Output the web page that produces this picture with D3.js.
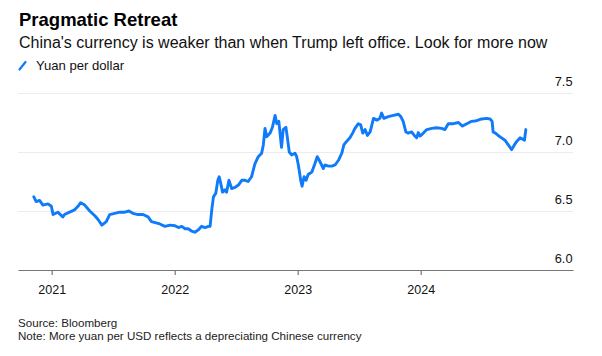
<!DOCTYPE html>
<html>
<head>
<meta charset="utf-8">
<script src="https://cdn.jsdelivr.net/npm/d3@7"></script>
<style>
  html, body { margin: 0; padding: 0; background: #fff; }
  svg { display: block; font-family: "Liberation Sans", Arial, sans-serif; }
</style>
</head>
<body>
<svg id="chart" width="602" height="356"></svg>
<script>
// ---- Data ----
const dates = [
 "2020-11-09","2020-11-16","2020-11-26","2020-12-06","2020-12-21","2020-12-31",
 "2021-01-05","2021-01-19","2021-02-03","2021-02-08","2021-02-23","2021-03-10",
 "2021-03-20","2021-03-28","2021-04-09","2021-04-24","2021-05-09","2021-05-18",
 "2021-05-30","2021-06-12","2021-06-22","2021-07-07","2021-07-22","2021-08-06",
 "2021-08-18","2021-08-30","2021-09-14","2021-09-29","2021-10-14","2021-10-24",
 "2021-11-07","2021-11-18","2021-12-03","2021-12-18","2022-01-02","2022-01-12",
 "2022-01-22","2022-02-01","2022-02-10","2022-02-20","2022-03-02","2022-03-12",
 "2022-03-22","2022-04-01","2022-04-11","2022-04-16","2022-04-21","2022-04-26",
 "2022-05-03","2022-05-09","2022-05-13","2022-05-18","2022-05-23","2022-05-30",
 "2022-06-04","2022-06-11","2022-06-19","2022-06-29","2022-07-09","2022-07-19",
 "2022-07-29","2022-08-07","2022-08-17","2022-08-27","2022-09-06","2022-09-16",
 "2022-09-21","2022-09-26","2022-10-01","2022-10-11","2022-10-18","2022-10-26",
 "2022-10-31","2022-11-06","2022-11-14","2022-11-19","2022-11-27","2022-12-01",
 "2022-12-07","2022-12-14","2022-12-24","2022-12-29","2023-01-03","2023-01-10",
 "2023-01-14","2023-01-20","2023-01-26","2023-02-01","2023-02-12","2023-02-21",
 "2023-02-28","2023-03-06","2023-03-13","2023-03-18","2023-03-23","2023-04-02",
 "2023-04-12","2023-04-22","2023-05-02","2023-05-12","2023-05-18","2023-05-26",
 "2023-06-05","2023-06-13","2023-06-20","2023-06-30","2023-07-07","2023-07-13",
 "2023-07-20","2023-07-27","2023-08-04","2023-08-14","2023-08-24","2023-09-02",
 "2023-09-07","2023-09-14","2023-09-27","2023-10-12","2023-10-27","2023-11-03",
 "2023-11-10","2023-11-18","2023-11-25","2023-12-05","2023-12-13","2023-12-20",
 "2023-12-25","2023-12-30","2024-01-09","2024-01-19","2024-02-03","2024-02-17",
 "2024-03-03","2024-03-13","2024-03-23","2024-04-07","2024-04-22","2024-05-04",
 "2024-05-17","2024-05-31","2024-06-15","2024-06-30","2024-07-15","2024-07-25",
 "2024-07-31","2024-08-03","2024-08-10","2024-08-18","2024-08-28","2024-09-07",
 "2024-09-17","2024-09-27","2024-10-05","2024-10-12","2024-10-22","2024-10-29",
 "2024-11-04","2024-11-08"
];
const yuanPerDollar = [
 6.62,6.58,6.59,6.55,6.56,6.54,
 6.47,6.49,6.45,6.47,6.49,6.51,
 6.54,6.57,6.55,6.50,6.46,6.43,
 6.38,6.41,6.47,6.48,6.49,6.49,
 6.50,6.48,6.47,6.47,6.45,6.41,
 6.40,6.39,6.37,6.38,6.375,6.36,
 6.37,6.35,6.35,6.33,6.32,6.34,
 6.37,6.36,6.37,6.37,6.51,6.62,
 6.65,6.76,6.79,6.73,6.66,6.68,
 6.66,6.76,6.69,6.70,6.72,6.76,
 6.76,6.75,6.79,6.90,6.96,6.99,
 7.06,7.20,7.13,7.16,7.21,7.31,
 7.24,7.26,7.04,7.19,7.21,7.13,
 7.00,6.975,6.99,6.96,6.89,6.76,
 6.71,6.79,6.76,6.81,6.83,6.90,
 6.96,6.93,6.89,6.86,6.89,6.88,
 6.88,6.89,6.93,6.99,7.06,7.09,
 7.12,7.16,7.20,7.24,7.23,7.16,
 7.19,7.14,7.17,7.285,7.27,7.285,
 7.33,7.285,7.30,7.31,7.32,7.30,
 7.26,7.17,7.16,7.17,7.14,7.12,
 7.165,7.135,7.16,7.19,7.20,7.205,
 7.20,7.19,7.24,7.24,7.25,7.22,
 7.24,7.26,7.265,7.28,7.285,7.28,
 7.26,7.17,7.16,7.14,7.12,7.10,
 7.06,7.02,7.06,7.09,7.12,7.11,
 7.10,7.19
];
const yTicks = [6.0, 6.5, 7.0, 7.5];
const yTickLabels = ["6.0", "6.5", "7.0", "7.5"];
const xTickYears = ["2021", "2022", "2023", "2024"];

const titleText = "Pragmatic Retreat";
const subtitleText = "China's currency is weaker than when Trump left office. Look for more now";
const legendText = "Yuan per dollar";
const sourceText = "Source: Bloomberg";
const noteText = "Note: More yuan per USD reflects a depreciating Chinese currency";

// ---- Drawing ----
(function () {
const parse = d3.timeParse("%Y-%m-%d");
const data = dates.map((d, i) => ({ date: parse(d), value: yuanPerDollar[i] }));

const svg = d3.select("#chart");
const plotLeft = 18, plotRight = 573, plotTop = 93, plotBottom = 270;
const blue = "#0f7bfa";

const x = d3.scaleTime()
  .domain([parse("2020-09-23"), parse("2025-03-28")])
  .range([plotLeft, plotRight]);
const y = d3.scaleLinear().domain([6.0, 7.5]).range([plotBottom, plotTop]);

// Titles
svg.append("text").attr("x", 19).attr("y", 26)
  .attr("font-size", 18.5).attr("font-weight", "bold").attr("fill", "#000")
  .text(titleText);
svg.append("text").attr("x", 19).attr("y", 48)
  .attr("font-size", 16).attr("fill", "#111")
  .text(subtitleText);

// Legend
svg.append("line").attr("x1", 19.5).attr("y1", 69.5).attr("x2", 25.5).attr("y2", 62)
  .attr("stroke", blue).attr("stroke-width", 2.2).attr("stroke-linecap", "round");
svg.append("text").attr("x", 36).attr("y", 69.5)
  .attr("font-size", 13.1).attr("fill", "#111")
  .text(legendText);

// Gridlines
svg.append("g").selectAll("line")
  .data(yTicks.filter(v => v !== 6.0))
  .join("line")
  .attr("x1", plotLeft).attr("x2", plotRight)
  .attr("y1", d => Math.round(y(d)) + 0.5).attr("y2", d => Math.round(y(d)) + 0.5)
  .attr("stroke", "#ececec").attr("stroke-width", 1.2);

// Y labels (right aligned, above gridlines)
svg.append("g").selectAll("text")
  .data(yTicks)
  .join("text")
  .attr("x", 572.5).attr("y", d => y(d) - 7.5)
  .attr("text-anchor", "end").attr("font-size", 12.8).attr("fill", "#111")
  .text((d, i) => yTickLabels[i]);

// X axis
const xAxis = d3.axisBottom(x)
  .tickValues(xTickYears.map(s => parse(s + "-01-01")))
  .tickFormat(d3.timeFormat("%Y"))
  .tickSize(5).tickSizeOuter(0).tickPadding(10);
const gx = svg.append("g").attr("transform", `translate(0,${plotBottom})`).call(xAxis);
gx.select(".domain").attr("stroke", "#777").attr("stroke-width", 1.2);
gx.selectAll(".tick line").attr("stroke", "#777").attr("stroke-width", 1.2);
gx.selectAll(".tick text").attr("font-size", 12.5).attr("fill", "#111")
  .attr("font-family", "Liberation Sans, Arial, sans-serif");

// Line
const line = d3.line().x(d => x(d.date)).y(d => y(d.value)).curve(d3.curveLinear);
svg.append("path").datum(data)
  .attr("fill", "none").attr("stroke", blue).attr("stroke-width", 2.9)
  .attr("stroke-linejoin", "round").attr("stroke-linecap", "round")
  .attr("d", line);

// Footer
svg.append("text").attr("x", 18).attr("y", 327)
  .attr("font-size", 11.6).attr("fill", "#222").text(sourceText);
svg.append("text").attr("x", 18).attr("y", 339.5)
  .attr("font-size", 11.6).attr("fill", "#222").text(noteText);
})();
</script>
</body>
</html>
